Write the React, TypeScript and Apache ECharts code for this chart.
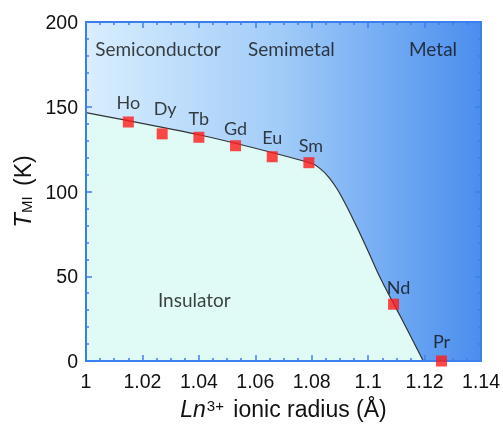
import React, { useEffect, useRef } from "react";
import * as echarts from "echarts";

// Boundary line between insulator and conducting phases (ionic radius Å, T_MI K)
const boundaryX = [1.0, 1.015, 1.04, 1.06, 1.08, 1.083, 1.086, 1.089, 1.092, 1.095, 1.098, 1.101, 1.104, 1.108, 1.112, 1.116, 1.1195];
const boundaryY = [146.5, 141.8, 133.5, 125.5, 116.5, 113.5, 108.5, 101.5, 92.5, 82.5, 72, 61, 50, 37, 24.5, 11.5, 0];

// Measured points
const elements = ["Ho", "Dy", "Tb", "Gd", "Eu", "Sm", "Nd", "Pr"];
const radii = [1.015, 1.027, 1.04, 1.053, 1.066, 1.079, 1.109, 1.126];
const tmi = [141, 134, 132, 127, 120.5, 117, 33.5, 0];

// Region labels
const regionNames = ["Semiconductor", "Semimetal", "Metal", "Insulator"];
const regionX = [1.0255, 1.0728, 1.123, 1.0384];
const regionY = [184.5, 184.5, 184.5, 36];

// style-only label nudges (px) for element labels
const labelNudge: [number, number][] = [
  [0, -1], [3, -6], [0, 0], [0, 2], [0, 0], [2, 2], [5, 2], [0, -1],
];

const AXIS = "#3b7fee";

export default function App() {
  const ref = useRef<HTMLDivElement>(null);
  useEffect(() => {
    if (!ref.current) return;
    const chart = echarts.init(ref.current, undefined, { renderer: "svg" });
    const tickFont = { color: "#111", fontSize: 19.5, fontFamily: "Liberation Sans" };
    const axisCommon = {
      axisLine: { show: true, onZero: false, lineStyle: { color: AXIS, width: 2 } },
      axisTick: { show: true, inside: true, length: 6, lineStyle: { color: AXIS, width: 1.5 } },
      minorTick: { show: true, length: 3, lineStyle: { color: AXIS, width: 1.5 } },
      splitLine: { show: false },
      z: 10,
    };
    chart.setOption({
      animation: false,
      grid: {
        left: 86,
        right: 16,
        top: 22,
        bottom: 63,
        show: true,
        borderWidth: 0,
        backgroundColor: new echarts.graphic.LinearGradient(0, 0, 1, 0, [
          { offset: 0, color: "#d9eefe" },
          { offset: 0.5, color: "#a0cbf8" },
          { offset: 1, color: "#4a8eee" },
        ]),
      },
      xAxis: [
        {
          type: "value",
          min: 1,
          max: 1.14,
          interval: 0.02,
          position: "bottom",
          ...axisCommon,
          minorTick: { ...axisCommon.minorTick, splitNumber: 4 },
          axisLabel: {
            ...tickFont,
            margin: 10,
            formatter: (v: number) => String(+v.toFixed(2)),
          },
          name: "{i|Ln}{s|3+} ionic radius (Å)",
          nameLocation: "middle",
          nameGap: 36,
          nameTextStyle: {
            fontSize: 23,
            color: "#111",
            fontFamily: "Liberation Sans",
            rich: {
              i: { fontStyle: "italic", fontSize: 23, fontFamily: "Liberation Sans", color: "#111" },
              s: { fontSize: 15, fontFamily: "Liberation Sans", color: "#111", padding: [0, 3, 6, 1] },
            },
          },
        },
        {
          type: "value",
          min: 1,
          max: 1.14,
          interval: 0.02,
          position: "top",
          ...axisCommon,
          minorTick: { ...axisCommon.minorTick, splitNumber: 4 },
          axisLabel: { show: false },
        },
      ],
      yAxis: [
        {
          type: "value",
          min: 0,
          max: 200,
          interval: 50,
          position: "left",
          ...axisCommon,
          minorTick: { ...axisCommon.minorTick, splitNumber: 5 },
          axisLabel: { ...tickFont, margin: 8 },
          name: "{i|T}{s|MI} (K)",
          nameLocation: "middle",
          nameGap: 36,
          nameRotate: 90,
          nameTextStyle: {
            fontSize: 23,
            color: "#111",
            fontFamily: "Liberation Sans",
            rich: {
              i: { fontStyle: "italic", fontSize: 24, fontFamily: "Liberation Sans", color: "#111" },
              s: { fontSize: 15, fontFamily: "Liberation Sans", color: "#111", padding: [8, 4, 0, 0] },
            },
          },
        },
        {
          type: "value",
          min: 0,
          max: 200,
          interval: 50,
          position: "right",
          ...axisCommon,
          minorTick: { ...axisCommon.minorTick, splitNumber: 5 },
          axisLabel: { show: false },
        },
      ],
      series: [
        {
          type: "line",
          data: boundaryX.map((x, i) => [x, boundaryY[i]]),
          symbol: "none",
          smooth: 0.2,
          lineStyle: { color: "#333", width: 1.2 },
          areaStyle: { color: "#e0fbf6", opacity: 1 },
          z: 2,
        },
        {
          type: "scatter",
          data: radii.map((x, i) => ({
            value: [x, tmi[i]],
            name: elements[i],
            label: { offset: labelNudge[i] },
          })),
          symbol: "rect",
          symbolSize: 11,
          clip: false,
          itemStyle: { color: "#ff1a1a" },
          label: {
            show: true,
            position: "top",
            distance: 5,
            formatter: (p: any) => p.name,
            fontSize: 18,
            fontFamily: "Lato",
            color: "#111",
          },
          z: 12,
        },
        {
          type: "scatter",
          data: regionX.map((x, i) => ({ value: [x, regionY[i]], name: regionNames[i] })),
          symbolSize: 0,
          silent: true,
          label: {
            show: true,
            position: "inside",
            formatter: (p: any) => p.name,
            fontSize: 19,
            fontFamily: "Lato",
            color: "#111",
          },
          z: 4,
        },
      ],
    });
    return () => chart.dispose();
  }, []);
  return (
    <div
      ref={ref}
      style={{ position: "fixed", left: 0, top: 0, width: 503, height: 425 }}
    />
  );
}
